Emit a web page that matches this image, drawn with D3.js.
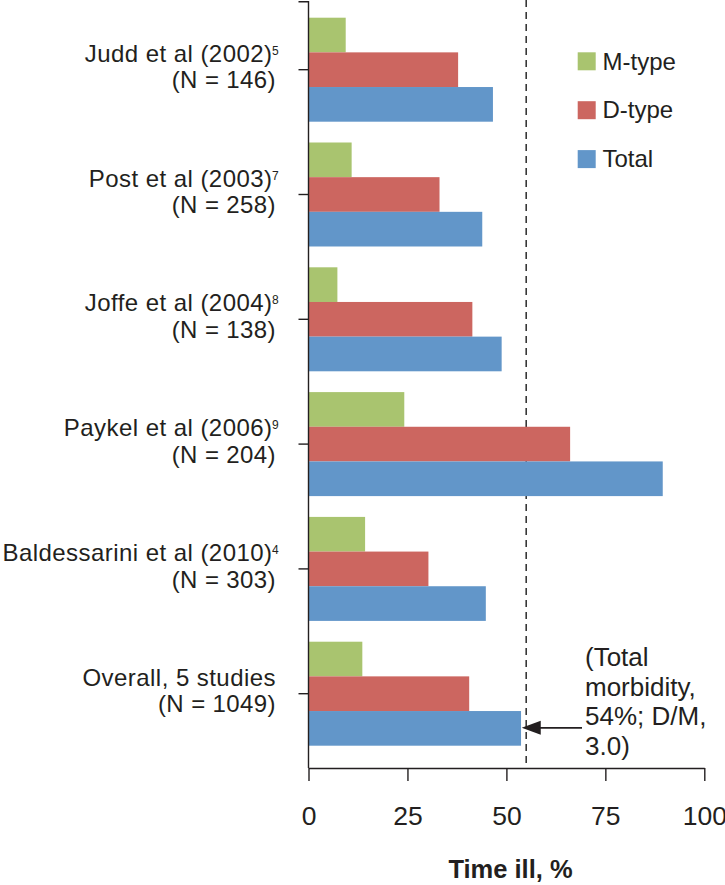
<!DOCTYPE html>
<html>
<head>
<meta charset="utf-8">
<script src="https://cdn.jsdelivr.net/npm/d3@7/dist/d3.min.js"></script>
<style>
  html, body { margin: 0; padding: 0; background: #fff; }
  svg { display: block; }
  text { font-family: "Liberation Sans", Arial, Helvetica, sans-serif; fill: #231f20; }
</style>
</head>
<body>
<script>
// ---- data ----
const studies = ["Judd et al (2002)", "Post et al (2003)", "Joffe et al (2004)", "Paykel et al (2006)", "Baldessarini et al (2010)", "Overall, 5 studies"];
const refs = ["5", "7", "8", "9", "4", ""];
const sampleSizes = ["(N = 146)", "(N = 258)", "(N = 138)", "(N = 204)", "(N = 303)", "(N = 1049)"];
const seriesNames = ["M-type", "D-type", "Total"];
const mType = [9.4, 10.9, 7.3, 24.2, 14.3, 13.6];
const dType = [37.8, 33.1, 41.4, 66.1, 30.3, 40.6];
const total = [46.6, 43.9, 48.8, 89.5, 44.8, 53.7];
const xTicks = [0, 25, 50, 75, 100];
const referenceLine = 55;
const annotationLines = ["(Total", "morbidity,", "54%; D/M,", "3.0)"];
const xTitle = "Time ill, %";

const colors = { "M-type": "#a9c46f", "D-type": "#cc6660", "Total": "#6296c9" };
const seriesValues = { "M-type": mType, "D-type": dType, "Total": total };

const W = 725, H = 885;
const svg = d3.select("body").append("svg").attr("width", W).attr("height", H);

const x = d3.scaleLinear().domain([0, 100]).range([308.5, 704.3]);
const y = d3.scaleBand().domain(studies).range([7.3, 756.1]).paddingInner(0.1667).paddingOuter(0.0833);
const yInner = d3.scaleBand().domain(seriesNames).range([0, y.bandwidth()]);
const axisY = 768;

// dashed reference line (behind bars)
svg.append("line")
  .attr("x1", x(referenceLine)).attr("x2", x(referenceLine))
  .attr("y1", 0).attr("y2", axisY)
  .attr("stroke", "#2b2b2b").attr("stroke-width", 1.5)
  .attr("stroke-dasharray", "7,5");

// bars
const rows = studies.map((s, i) => ({ study: s, i }));
const groups = svg.append("g").selectAll("g").data(rows).join("g")
  .attr("transform", d => `translate(0,${y(d.study)})`);
groups.selectAll("rect")
  .data(d => seriesNames.map(k => ({ key: k, value: seriesValues[k][d.i] })))
  .join("rect")
  .attr("x", x(0))
  .attr("y", d => yInner(d.key))
  .attr("width", d => x(d.value) - x(0))
  .attr("height", yInner.bandwidth())
  .attr("fill", d => colors[d.key]);

// y axis
const yAxis = d3.axisLeft(y).tickSize(10).tickSizeOuter(0).tickFormat("");
const gy = svg.append("g").attr("transform", `translate(${x(0)},0)`).call(yAxis);
gy.select(".domain").remove();
gy.selectAll(".tick line").attr("stroke", "#231f20").attr("stroke-width", 1.4);
svg.append("path")
  .attr("d", `M${x(0) - 10},1.7H${x(0)}V${axisY}`)
  .attr("fill", "none").attr("stroke", "#231f20").attr("stroke-width", 1.4);

// category labels
const labelRight = 276;
const lab = svg.append("g");
rows.forEach(d => {
  const cy = y(d.study) + y.bandwidth() / 2 - 0.3;
  const hasRef = !!refs[d.i];
  lab.append("text")
    .attr("x", hasRef ? labelRight - 3.5 : labelRight).attr("y", cy - 7.6)
    .attr("text-anchor", "end")
    .style("font-size", "24px").style("letter-spacing", "0.45px")
    .text(d.study);
  if (hasRef) {
    lab.append("text")
      .attr("x", labelRight - 4).attr("y", cy - 14.5)
      .style("font-size", "12px")
      .text(refs[d.i]);
  }
  lab.append("text")
    .attr("x", labelRight).attr("y", cy + 19)
    .attr("text-anchor", "end")
    .style("font-size", "24px").style("letter-spacing", "0.4px")
    .text(sampleSizes[d.i]);
});

// x axis
const xAxis = d3.axisBottom(x).tickValues(xTicks).tickSize(13).tickSizeOuter(0);
const gx = svg.append("g").attr("transform", `translate(0,${axisY})`).call(xAxis);
gx.select(".domain").attr("stroke", "#231f20").attr("stroke-width", 1.4);
gx.selectAll(".tick line").attr("stroke", "#231f20").attr("stroke-width", 1.4);
gx.selectAll(".tick text")
  .attr("y", 57).attr("dy", 0)
  .style("font-size", "26.5px")
  .style("font-family", "'Liberation Sans', Arial, sans-serif")
  .attr("fill", "#231f20");

// x title
svg.append("text")
  .attr("x", 510.5).attr("y", 878)
  .attr("text-anchor", "middle")
  .style("font-size", "25.5px").style("font-weight", "bold")
  .text(xTitle);

// legend
const lg = svg.append("g");
seriesNames.forEach((k, i) => {
  const ly = 52.3 + i * 48.9;
  lg.append("rect").attr("x", 577.7).attr("y", ly).attr("width", 18).attr("height", 18).attr("fill", colors[k]);
  lg.append("text").attr("x", 602.5).attr("y", ly + 17.2).style("font-size", "24px").text(k);
});

// annotation + arrow
const last = studies.length - 1;
const arrowY = y(studies[last]) + yInner("Total") + yInner.bandwidth() / 2 - 0.5;
const tipX = x(total[last]) + 0.7;
svg.append("line")
  .attr("x1", 582).attr("x2", tipX + 15)
  .attr("y1", arrowY).attr("y2", arrowY)
  .attr("stroke", "#231f20").attr("stroke-width", 1.6);
svg.append("path")
  .attr("d", `M${tipX},${arrowY}L${tipX + 19},${arrowY - 7}L${tipX + 19},${arrowY + 7}Z`)
  .attr("fill", "#231f20");
const ann = svg.append("text").attr("x", 585).style("font-size", "26px");
annotationLines.forEach((t, i) => {
  ann.append("tspan").attr("x", 585).attr("y", 666 + i * 29.7).text(t);
});
</script>
</body>
</html>
